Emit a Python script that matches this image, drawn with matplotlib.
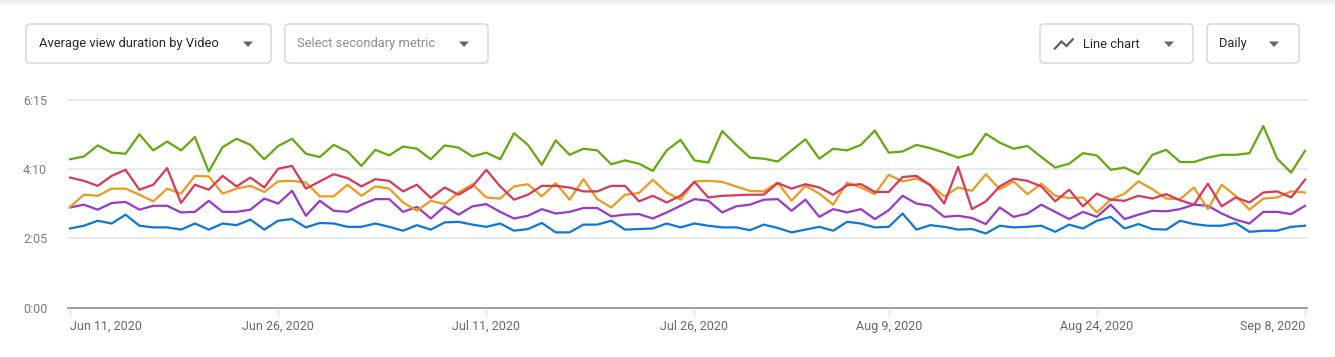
import matplotlib
matplotlib.use('Agg')
import matplotlib.pyplot as plt
import matplotlib.dates as mdates
from matplotlib.patches import FancyBboxPatch, Polygon, Rectangle
import pandas as pd

# ---------------- data (seconds) ----------------
dates = pd.date_range('2020-06-11', periods=90, freq='D')

green = [268, 273, 293, 280, 278, 313, 284, 300, 284, 308, 246, 290, 305, 294, 268, 292, 305, 278, 272, 294, 282, 256, 285, 275,
         291, 287, 268, 293, 289, 273, 280, 268, 315, 294, 258, 302, 276, 287, 284, 259, 266, 260, 247, 284, 303, 266, 262,
         319, 294, 271, 269, 264, 284, 304, 269, 287, 284, 294, 320, 280, 282, 294, 288, 280, 271, 278, 314, 298, 287, 292,
         272, 253, 260, 279, 275, 249, 253, 241, 276, 285, 263, 263, 271, 276, 276, 279, 328, 269, 244, 283]

red = [235, 229, 220, 238, 249, 213, 222, 252, 189, 222, 213, 238, 219, 235, 217, 251, 256, 215, 228, 241, 234, 219, 232, 229,
       210, 222, 198, 217, 204, 219, 249, 219, 195, 204, 220, 220, 217, 210, 210, 220, 220, 192, 202, 190, 202, 227, 199,
       202, 203, 204, 204, 225, 215, 223, 217, 204, 221, 223, 209, 209, 236, 238, 221, 188, 254, 178, 192, 219, 233, 229,
       219, 192, 213, 183, 206, 195, 193, 202, 197, 205, 194, 186, 224, 183, 199, 190, 208, 210, 199, 231]

orange = [182, 204, 202, 215, 215, 204, 192, 215, 206, 238, 237, 206, 215, 220, 209, 228, 229, 226, 201, 201, 222, 202, 219, 215,
          190, 175, 193, 187, 208, 223, 199, 197, 219, 223, 201, 225, 195, 232, 196, 181, 204, 207, 231, 208, 195, 228, 229,
          227, 219, 211, 210, 226, 193, 220, 206, 186, 226, 217, 205, 240, 228, 233, 222, 201, 217, 211, 241, 214, 228, 205,
          224, 202, 198, 199, 172, 195, 206, 228, 214, 197, 196, 217, 178, 222, 202, 177, 197, 199, 210, 208]

purple = [181, 186, 177, 189, 191, 177, 184, 184, 172, 173, 193, 173, 173, 177, 197, 188, 211, 166, 193, 175, 173, 186, 196, 196,
          173, 182, 161, 183, 168, 183, 187, 173, 161, 166, 178, 170, 173, 180, 180, 165, 168, 169, 161, 172, 184, 196, 193,
          172, 183, 186, 195, 196, 175, 195, 164, 178, 172, 178, 160, 176, 202, 188, 184, 164, 166, 162, 151, 181, 164, 170,
          186, 173, 160, 173, 164, 186, 160, 168, 175, 174, 178, 186, 184, 170, 159, 152, 173, 173, 169, 184]

blue = [143, 148, 157, 152, 168, 148, 145, 145, 141, 152, 141, 152, 149, 159, 141, 157, 160, 145, 153, 152, 146, 146, 152, 146,
        139, 149, 141, 154, 155, 150, 146, 152, 139, 142, 153, 136, 136, 150, 150, 157, 141, 142, 143, 152, 145, 152, 148,
        145, 145, 140, 150, 144, 136, 141, 146, 139, 155, 152, 145, 146, 170, 141, 149, 146, 141, 142, 134, 148, 145, 146,
        148, 137, 150, 143, 157, 164, 143, 151, 142, 141, 157, 151, 148, 148, 153, 137, 139, 139, 146, 148]

tick_dates = ['2020-06-11', '2020-06-26', '2020-07-11', '2020-07-26', '2020-08-09', '2020-08-24', '2020-09-08']
tick_labels = ['Jun 11, 2020', 'Jun 26, 2020', 'Jul 11, 2020', 'Jul 26, 2020', 'Aug 9, 2020', 'Aug 24, 2020', 'Sep 8, 2020']
y_ticks = [0, 125, 250, 375]
y_labels = ['0:00', '2:05', '4:10', '6:15']

series = [
    (blue, '#0b78d6'),
    (purple, '#9a38c9'),
    (orange, '#ea9a1c'),
    (red, '#d9385a'),
    (green, '#62aa0a'),
]

# ---------------- figure ----------------
plt.rcParams['font.family'] = ['Roboto', 'DejaVu Sans']
W, H = 1335, 357
fig = plt.figure(figsize=(W / 100, H / 100), dpi=100)
fig.patch.set_facecolor('white')

# overlay for UI controls (pixel coordinates)
ov = fig.add_axes([0, 0, 1, 1])
ov.set_xlim(0, W)
ov.set_ylim(H, 0)
ov.axis('off')

# faint top shadow
for k in range(6):
    ov.add_patch(Rectangle((0, k), W, 1, color='#d8d8d8', alpha=0.5 * (1 - k / 6), lw=0))


def box(x, w):
    ov.add_patch(FancyBboxPatch((x, 24), w, 39, boxstyle='round,pad=0,rounding_size=4',
                                fc='white', ec='#d4d4d4', lw=1))


def tri(cx):
    ov.add_patch(Polygon([(cx - 5, 41.5), (cx + 5, 41.5), (cx, 47)], closed=True, color='#666666', lw=0))


UI_FS = 9.3
box(26, 245)
ov.text(39, 44, 'Average view duration by Video', fontsize=UI_FS, color='#262626', va='center', ha='left')
tri(248)

box(285, 203)
ov.text(297, 44, 'Select secondary metric', fontsize=UI_FS, color='#8c8c8c', va='center', ha='left')
tri(464)

box(1040, 153)
ov.plot([1054, 1061.5, 1066.5, 1073.5], [49.5, 41.5, 46, 38.5], color='#5f5f5f', lw=1.6,
        solid_joinstyle='miter', solid_capstyle='butt')
ov.text(1083, 44, 'Line chart', fontsize=UI_FS, color='#262626', va='center', ha='left')
tri(1169)

box(1207, 92)
ov.text(1219, 44, 'Daily', fontsize=UI_FS, color='#262626', va='center', ha='left')
tri(1274)

# ---------------- chart ----------------
ax = fig.add_axes([68 / W, 1 - 307.7 / H, (1307 - 68) / W, (307.7 - 100) / H])
ax.patch.set_alpha(0)

for vals, col in series:
    ax.plot(dates, vals, color=col, lw=1.6, solid_joinstyle='round', zorder=3)

ax.set_ylim(0, 375)
ax.set_xlim(dates[0] - pd.Timedelta(hours=3.5), dates[-1] + pd.Timedelta(hours=3.5))

for yv in y_ticks[1:]:
    ax.axhline(yv, color='#e3e3e3', lw=1.1, zorder=1, clip_on=False)
ax.axhline(0, color='#9e9e9e', lw=1.4, zorder=2, clip_on=False)

for s in ax.spines.values():
    s.set_visible(False)

ax.set_yticks(y_ticks)
ax.set_yticklabels(y_labels)
ax.tick_params(axis='y', length=0, pad=15, labelsize=9, labelcolor='#7a7a7a')

ax.set_xticks(pd.to_datetime(tick_dates))
ax.set_xticklabels(tick_labels)
ax.tick_params(axis='x', length=5, width=1, color='#dcdcdc', pad=4, labelsize=9, labelcolor='#666666')
xl = ax.get_xticklabels()
xl[0].set_ha('left')
xl[-1].set_ha('right')

fig.savefig('out.png', dpi=100, facecolor='white')
